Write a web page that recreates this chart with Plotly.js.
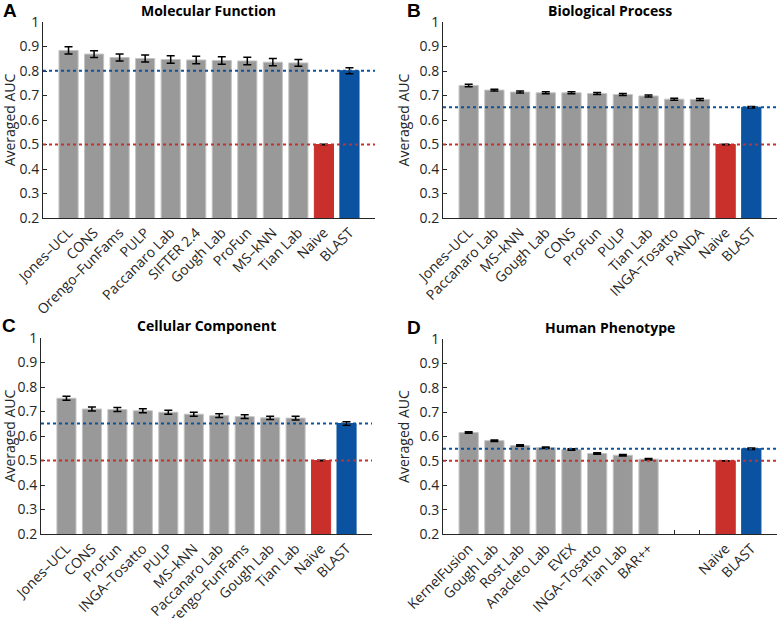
<!DOCTYPE html>
<html>
<head>
<meta charset="utf-8">
<script src="https://cdn.plot.ly/plotly-3.0.1.min.js"></script>
<style>
  body { margin: 0; background: #fff; }
  #myDiv { width: 777px; height: 618px; }
</style>
</head>
<body>
<div id="myDiv"></div>
<script>
// A: Molecular Function
var mfLabels = ['Jones–UCL', 'CONS', 'Orengo–FunFams', 'PULP', 'Paccanaro Lab', 'SIFTER 2.4',
                'Gough Lab', 'ProFun', 'MS–kNN', 'Tian Lab', 'Naive', 'BLAST'];
var mfAuc = [0.884, 0.869, 0.855, 0.851, 0.847, 0.845, 0.843, 0.841, 0.836, 0.833, 0.5, 0.801];
var mfErr = [0.015, 0.014, 0.014, 0.014, 0.015, 0.015, 0.015, 0.015, 0.015, 0.014, 0.001, 0.012];

// B: Biological Process
var bpLabels = ['Jones–UCL', 'Paccanaro Lab', 'MS–kNN', 'Gough Lab', 'CONS', 'ProFun',
                'PULP', 'Tian Lab', 'INGA–Tosatto', 'PANDA', 'Naive', 'BLAST'];
var bpAuc = [0.741, 0.722, 0.714, 0.711, 0.711, 0.708, 0.704, 0.698, 0.685, 0.684, 0.5, 0.652];
var bpErr = [0.005, 0.004, 0.004, 0.004, 0.004, 0.004, 0.004, 0.004, 0.004, 0.004, 0.001, 0.003];

// C: Cellular Component
var ccLabels = ['Jones–UCL', 'CONS', 'ProFun', 'INGA–Tosatto', 'PULP', 'MS–kNN',
                'Paccanaro Lab', 'Orengo–FunFams', 'Gough Lab', 'Tian Lab', 'Naive', 'BLAST'];
var ccAuc = [0.754, 0.710, 0.708, 0.703, 0.697, 0.689, 0.683, 0.679, 0.674, 0.673, 0.5, 0.651];
var ccErr = [0.008, 0.008, 0.008, 0.008, 0.008, 0.008, 0.008, 0.008, 0.007, 0.008, 0.001, 0.007];

// D: Human Phenotype (two empty slots before the baselines)
var hpLabels = ['KernelFusion', 'Gough Lab', 'Rost Lab', 'Anacleto Lab', 'EVEX', 'INGA–Tosatto',
                'Tian Lab', 'BAR++', '', '', 'Naive', 'BLAST'];
var hpAuc = [0.616, 0.583, 0.563, 0.554, 0.547, 0.530, 0.523, 0.507, null, null, 0.5, 0.550];
var hpErr = [0.003, 0.003, 0.003, 0.003, 0.003, 0.003, 0.003, 0.003, null, null, 0.001, 0.003];

var panels = [
  {labels: mfLabels, auc: mfAuc, err: mfErr, title: 'Molecular Function', letter: 'A', n: ''},
  {labels: bpLabels, auc: bpAuc, err: bpErr, title: 'Biological Process', letter: 'B', n: '2'},
  {labels: ccLabels, auc: ccAuc, err: ccErr, title: 'Cellular Component', letter: 'C', n: '3'},
  {labels: hpLabels, auc: hpAuc, err: hpErr, title: 'Human Phenotype', letter: 'D', n: '4'}
];

var GRAY = '#999999', RED = '#c9302c', BLUE = '#0b53a1';
var W = 777, H = 618;
// plot boxes in pixels: [left, right, top, bottom]
var boxes = [[43, 375, 22, 218], [443, 777, 22, 218], [41, 372, 338, 534], [443, 777, 339, 534]];
var letterPos = [[10, 10], [414, 10], [9, 326], [414, 327]];

function barColor(lab) {
  if (lab === 'Naive') return RED;
  if (lab === 'BLAST') return BLUE;
  return GRAY;
}

var data = [];
var layout = {
  width: W, height: H,
  margin: {l: 0, r: 0, t: 0, b: 0},
  paper_bgcolor: '#fff', plot_bgcolor: '#fff',
  font: {family: 'Open Sans', size: 13, color: '#262626'},
  showlegend: false,
  shapes: [],
  annotations: []
};

panels.forEach(function (p, i) {
  var idx = p.labels.map(function (_, k) { return k; });
  var xa = 'x' + p.n, ya = 'y' + p.n;
  data.push({
    type: 'bar',
    x: idx,
    y: p.auc,
    xaxis: xa, yaxis: ya,
    width: 0.75,
    marker: {
      color: p.labels.map(barColor),
      line: {color: p.labels.map(function (l) { return barColor(l) === GRAY ? '#c4c4c4' : barColor(l); }), width: 1}
    },
    error_y: {type: 'data', array: p.err, visible: true, color: '#000', thickness: 1.5, width: 4},
    hoverinfo: 'x+y'
  });

  var b = boxes[i];
  layout['xaxis' + p.n] = {
    domain: [b[0] / W, b[1] / W],
    anchor: ya,
    range: [-1, p.labels.length],
    tickvals: idx,
    ticktext: p.labels,
    tickangle: -45,
    ticks: 'inside', ticklen: 4, tickcolor: '#262626',
    showline: true, linecolor: '#262626', linewidth: 1,
    showgrid: false, zeroline: false,
    layer: 'below traces',
    tickfont: {size: 14}
  };
  layout['yaxis' + p.n] = {
    domain: [1 - b[3] / H, 1 - b[2] / H],
    anchor: xa,
    range: [0.2, 1],
    dtick: 0.1,
    ticks: 'inside', ticklen: 4, tickcolor: '#262626',
    showline: true, linecolor: '#262626', linewidth: 1,
    showgrid: false, zeroline: false,
    tickfont: {size: 14},
    title: {text: 'Averaged AUC', font: {size: 14, color: '#262626'}, standoff: 6}
  };

  // baseline reference lines
  var naive = p.auc[p.labels.indexOf('Naive')];
  var blast = p.auc[p.labels.indexOf('BLAST')];
  [[naive, RED], [blast, BLUE]].forEach(function (r) {
    layout.shapes.push({
      type: 'line', xref: xa + ' domain', yref: ya,
      x0: 0, x1: 1, y0: r[0], y1: r[0],
      line: {color: r[1], width: 2, dash: 'dot'}
    });
  });

  layout.annotations.push({
    text: '<b>' + p.title + '</b>', xref: 'paper', yref: 'paper',
    x: (b[0] + b[1]) / 2 / W, y: 1 - (b[2] - 12) / H,
    xanchor: 'center', yanchor: 'middle', showarrow: false,
    font: {size: 14, color: '#000'}
  });
  layout.annotations.push({
    text: '<b>' + p.letter + '</b>', xref: 'paper', yref: 'paper',
    x: letterPos[i][0] / W, y: 1 - letterPos[i][1] / H,
    xanchor: 'center', yanchor: 'middle', showarrow: false,
    font: {size: 19, color: '#000', family: 'Liberation Sans'}
  });
});

Plotly.newPlot('myDiv', data, layout, {displayModeBar: false});
</script>
</body>
</html>
